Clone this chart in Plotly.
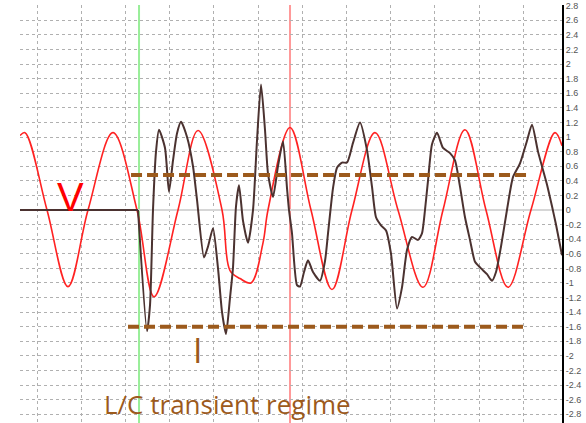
import plotly.graph_objects as go

# Time axis in grid divisions (one dotted vertical grid line per division)
v_time = [0.615, 0.728, 1.226, 1.701, 2.154, 2.719, 3.262, 3.647, 4.190, 4.643,
          5.186, 5.367, 5.593, 5.842, 6.113, 6.226, 6.724, 7.199, 7.674, 8.127,
          8.647, 9.167, 9.733, 10.186, 10.683, 11.158, 11.656, 12.176, 12.719, 12.878]
v_value = [1.02, 1.06, 0.0, -1.05, 0.0, 1.06, 0.0, -1.19, 0.0, 1.09,
           0.0, -0.83, -0.94, -1.0, -0.45, 0.0, 1.13, 0.0, -1.09, 0.0,
           1.06, 0.0, -1.06, 0.0, 1.10, 0.0, -1.06, 0.0, 1.06, 0.88]

# Current before the switching instant (flat at zero)
i_rest_time = [0.615, 3.285]
i_rest_value = [0.0, 0.0]

# Current during the transient
i_time = [3.285, 3.489, 3.557, 3.624, 3.692, 3.760, 3.896, 3.986, 4.077,
          4.167, 4.258, 4.394, 4.529, 4.620, 4.778, 4.869, 4.982, 5.095, 5.186,
          5.276, 5.367, 5.434, 5.502, 5.570, 5.661, 5.774, 5.887, 5.977, 6.068,
          6.158, 6.226, 6.339, 6.452, 6.566, 6.656, 6.701, 6.769, 6.882, 6.950,
          7.041, 7.131, 7.244, 7.403, 7.516, 7.584, 7.697, 7.787, 7.900, 8.014,
          8.149, 8.308, 8.466, 8.579, 8.670, 8.783, 8.896, 9.009, 9.145, 9.258,
          9.371, 9.484, 9.620, 9.710, 9.778, 9.846, 9.937, 10.050, 10.186, 10.344,
          10.457, 10.570, 10.683, 10.796, 10.910, 11.045, 11.181, 11.294, 11.385, 11.498,
          11.633, 11.769, 11.928, 12.086, 12.199, 12.335, 12.538, 12.652, 12.742, 12.878]
i_value = [0.0, -1.66, -1.3, 0.0, 0.8, 1.1, 0.85, 0.25, 0.68,
           1.05, 1.21, 1.0, 0.6, 0.14, -0.65, -0.5, -0.25, -0.8, -1.4,
           -1.7, -1.2, -0.79, 0.05, 0.34, -0.15, -0.45, 0.0, 0.95, 1.72,
           1.1, 0.5, 0.18, 0.6, 0.94, 0.3, 0.0, -0.32, -1.03, -1.05,
           -0.85, -0.69, -0.85, -0.97, -0.7, -0.32, 0.3, 0.58, 0.65, 0.65,
           0.92, 1.2, 0.82, 0.32, -0.1, -0.21, -0.28, -0.6, -1.35, -1.06,
           -0.55, -0.37, -0.41, -0.32, 0.0, 0.4, 0.9, 1.06, 0.85, 0.78,
           0.68, 0.32, -0.1, -0.41, -0.71, -0.8, -0.88, -0.97, -0.85, -0.5,
           0.0, 0.45, 0.64, 0.95, 1.17, 0.8, 0.35, 0.05, -0.2, -0.62]

# Current envelope levels and their time spans
env_high_time = [3.127, 12.086]
env_high = [0.48, 0.48]
env_low_time = [3.059, 11.995]
env_low = [-1.6, -1.6]

# Cursor positions
cursor_green = 3.308
cursor_red = 6.724

Y_MIN, Y_MAX = -2.92, 2.81
y_ticks = [round(-2.8 + 0.2 * k, 1) for k in range(29)]
y_labels = [("0" if v == 0 else (str(int(v)) if float(v).is_integer() else f"{v:g}")) for v in y_ticks]

BROWN = "#9c5a1c"
DARK = "#4b3230"

fig = go.Figure()

fig.add_trace(go.Scatter(x=v_time, y=v_value, mode="lines",
                         line=dict(color="#ff2222", width=1.6, shape="spline", smoothing=1.0),
                         hoverinfo="skip"))
fig.add_trace(go.Scatter(x=i_rest_time, y=i_rest_value, mode="lines",
                         line=dict(color=DARK, width=2), hoverinfo="skip"))
fig.add_trace(go.Scatter(x=i_time, y=i_value, mode="lines",
                         line=dict(color=DARK, width=2, shape="spline", smoothing=0.6),
                         hoverinfo="skip"))
fig.add_trace(go.Scatter(x=env_high_time, y=env_high, mode="lines",
                         line=dict(color=BROWN, width=4, dash="11px,5px"), hoverinfo="skip"))
fig.add_trace(go.Scatter(x=env_low_time, y=env_low, mode="lines",
                         line=dict(color=BROWN, width=4, dash="11px,5px"), hoverinfo="skip"))

for xc, col in [(cursor_green, "#99ee99"), (cursor_red, "#ff9999")]:
    fig.add_shape(type="line", xref="x", yref="paper", x0=xc, x1=xc, y0=0, y1=1,
                  line=dict(color=col, width=2), layer="below")

fig.add_annotation(x=1.75, y=0.18, text="V", showarrow=False,
                   font=dict(family="Liberation Sans", size=40, color="#ff0000"))
fig.add_annotation(x=4.643, y=-1.92, text="I", showarrow=False,
                   font=dict(family="Open Sans", size=34, color=BROWN))
fig.add_annotation(x=5.30, y=-2.66, text="L/C transient regime", showarrow=False,
                   font=dict(family="Open Sans", size=26, color=BROWN))

fig.update_layout(
    width=586, height=423, autosize=False,
    margin=dict(l=20, r=24, t=5, b=0, pad=0),
    paper_bgcolor="white", plot_bgcolor="white",
    showlegend=False,
    xaxis=dict(range=[0.615, 12.878], tick0=0, dtick=1, showticklabels=False,
               showgrid=True, gridcolor="#b0b0b0", griddash="dot", gridwidth=1,
               zeroline=False, showline=False, ticks="", automargin=False),
    yaxis=dict(range=[Y_MIN, Y_MAX], side="right", tickvals=y_ticks, ticktext=y_labels,
               showgrid=True, gridcolor="#b0b0b0", griddash="dot", gridwidth=1,
               zeroline=True, zerolinecolor="#d6d6d6", zerolinewidth=2,
               showline=True, linecolor="black", linewidth=2, ticks="", automargin=False,
               tickfont=dict(family="Liberation Sans", size=9, color="#555555")),
)

fig.write_html("out.html")
